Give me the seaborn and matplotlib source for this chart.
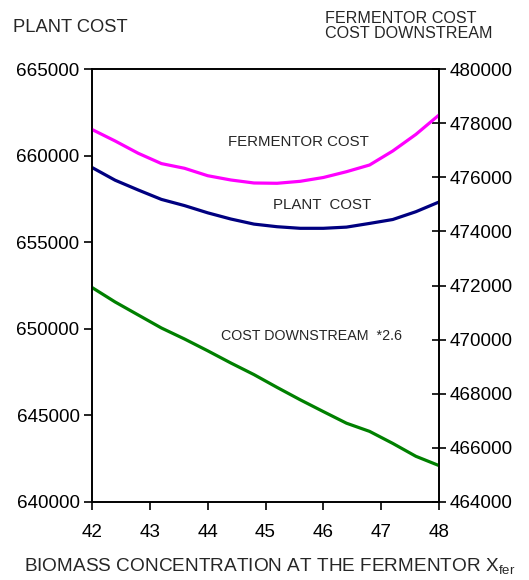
import matplotlib
matplotlib.use("Agg")
import matplotlib.pyplot as plt
import seaborn as sns
import pandas as pd

# Biomass concentration at the fermentor
x_fer = [42.0, 42.4, 42.8, 43.2, 43.6, 44.0, 44.4, 44.8,
         45.2, 45.6, 46.0, 46.4, 46.8, 47.2, 47.6, 48.0]

# Total plant cost (left axis)
plant_cost = [659313, 658579, 658013, 657471, 657113, 656697, 656339, 656045,
              655894, 655802, 655802, 655871, 656085, 656310, 656760, 657321]

# Fermentor cost (right axis)
fermentor_cost = [477765, 477340, 476885, 476505, 476331, 476057, 475899, 475788,
                  475777, 475850, 475991, 476205, 476453, 476970, 477583, 478300]

# Downstream cost scaled by 2.6 (right axis)
downstream_cost = [471926, 471391, 470910, 470430, 470023, 469588, 469137, 468708,
                   468235, 467777, 467341, 466912, 466609, 466166, 465689, 465346]

left_ticks = [640000, 645000, 650000, 655000, 660000, 665000]
right_ticks = [464000, 466000, 468000, 470000, 472000, 474000, 476000, 478000, 480000]
x_ticks = [42, 43, 44, 45, 46, 47, 48]

sns.set_theme(style="white")
plt.rcParams["font.family"] = ["Liberation Sans", "DejaVu Sans"]
plt.rcParams["mathtext.fontset"] = "custom"
plt.rcParams["mathtext.rm"] = "Liberation Sans"
plt.rcParams["mathtext.it"] = "Liberation Sans"

df = pd.DataFrame({"x": x_fer, "plant": plant_cost,
                   "ferm": fermentor_cost, "down": downstream_cost})

fig = plt.figure(figsize=(5.29, 5.80), dpi=100)
ax = fig.add_axes([92 / 529, 1 - 502 / 580, (439 - 92) / 529, (502 - 69) / 580])
ax2 = ax.twinx()

sns.lineplot(data=df, x="x", y="plant", ax=ax, color="#000080", linewidth=2.3)
sns.lineplot(data=df, x="x", y="ferm", ax=ax2, color="#FF00FF", linewidth=2.3)
sns.lineplot(data=df, x="x", y="down", ax=ax2, color="#008000", linewidth=2.3)

ax.set_xlim(42, 48)
ax.set_ylim(640000, 665000)
ax2.set_ylim(464000, 480000)
ax.set_xticks(x_ticks)
ax.set_yticks(left_ticks)
ax2.set_yticks(right_ticks)
ax.set_xticklabels([str(v) for v in x_ticks])
ax.set_yticklabels([str(v) for v in left_ticks])
ax2.set_yticklabels([str(v) for v in right_ticks])

for a in (ax, ax2):
    a.set_xlabel("")
    a.set_ylabel("")
    for s in a.spines.values():
        s.set_color("black")
        s.set_linewidth(1.2)

ax.tick_params(axis="both", which="major", labelsize=13.6, colors="black",
               direction="out", length=6, width=1.2, left=True, bottom=True)
ax.tick_params(axis="y", pad=3)
ax.tick_params(axis="x", pad=10)
ax2.tick_params(axis="y", labelsize=13.6, colors="black", direction="inout",
                length=10, width=1.2, pad=3, right=True)

# Axis titles
fig.text(13 / 529, 1 - 27 / 580, "PLANT COST", fontsize=13.2, ha="left", va="center")
fig.text(325 / 529, 1 - 26 / 580, "FERMENTOR COST\nCOST DOWNSTREAM", fontsize=11.6,
         ha="left", va="center", linespacing=1.0)
fig.text(270 / 529, 1 - 566 / 580,
         r"BIOMASS CONCENTRATION AT THE FERMENTOR X$_{\mathrm{fer}}$",
         fontsize=13.7, ha="center", va="center")

# Curve labels
ax.text(228 / 529, 1 - 142 / 580, "FERMENTOR COST", transform=fig.transFigure,
        fontsize=10.8, ha="left", va="center")
ax.text(273 / 529, 1 - 205 / 580, "PLANT  COST", transform=fig.transFigure,
        fontsize=10.8, ha="left", va="center")
ax.text(221 / 529, 1 - 336 / 580, "COST DOWNSTREAM  *2.6", transform=fig.transFigure,
        fontsize=10.3, ha="left", va="center")

fig.savefig("out.png", dpi=100)
